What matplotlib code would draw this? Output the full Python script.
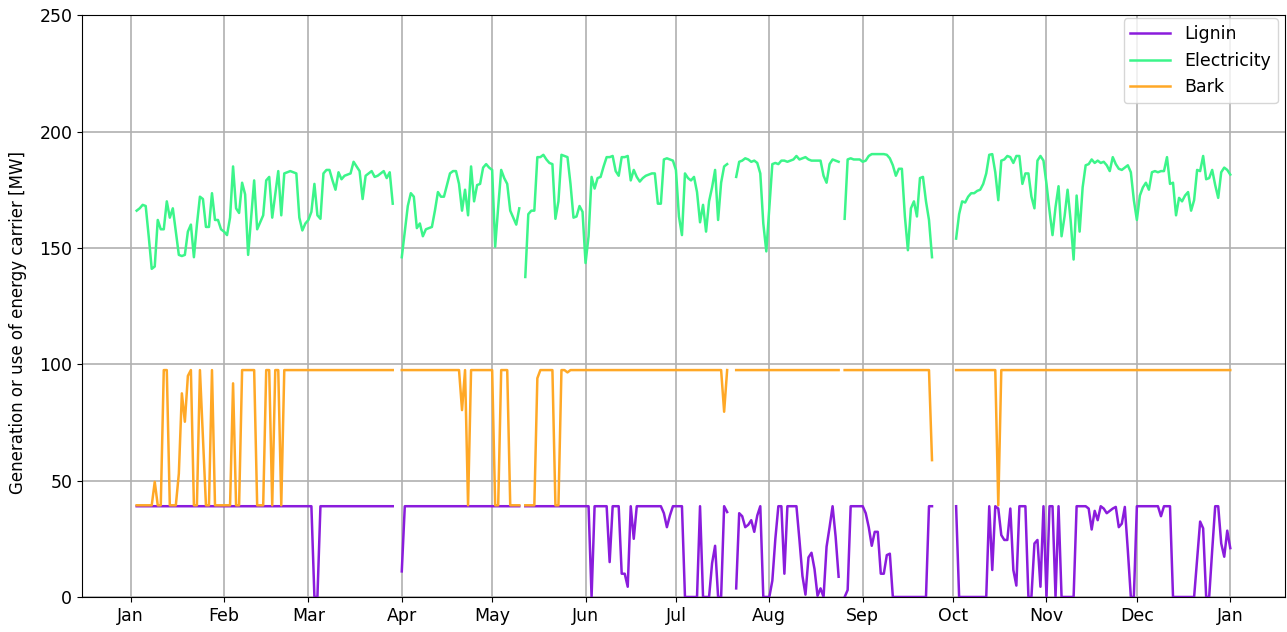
import numpy as np
import pandas as pd
import matplotlib
matplotlib.use("Agg")
import matplotlib.pyplot as plt
import matplotlib.dates as mdates

nan = np.nan

# daily values, first day 3 Jan, last day 1 Jan of next year
start_day = "2019-01-03"

electricity = [
    166, 167, 168.5, 168, 155, 141, 142, 162, 158, 158, 170, 163, 167, 157,
    147, 146.5, 147, 157, 160, 146, 160, 172, 171, 159, 159, 173.5, 162, 162,
    158, 157, 155.5, 163, 185, 167, 165, 178, 173, 147, 163, 179, 158, 161,
    164, 179, 180.5, 163, 173, 183, 164, 182, 182.5, 183, 182.5, 182, 163, 157.5,
    160.5, 162, 165.5, 177.5, 164, 162.5, 182, 183.5, 183.5, 179, 175, 182.5, 179.5, 181,
    181.5, 182, 187, 185, 183, 171, 181, 182, 183, 180.5, 181, 182, 183, 180,
    182.5, 169, nan, nan, 146, 157, 168, 173.5, 172, 158.5, 160.5, 155, 158, 158.5,
    159, 166, 174, 172, 172, 177, 182, 183, 183, 177.5, 166, 175, 164, 185,
    170, 177, 177.5, 184.5, 186, 184.5, 183.5, 150.5, 167.5, 183.5, 180, 177.5, 166, 163,
    160, 167, nan, 137.5, 164.5, 166, 166, 189, 189, 190, 188, 186.5, 186, 162.5,
    170, 190, 189.5, 189, 177.5, 163, 163.5, 168, 165.5, 143.5, 155, 180.5, 175.5, 180,
    180.5, 185, 189, 189, 189.5, 183, 181, 189, 189, 189.5, 179, 183.5, 180.5, 178.5,
    180, 181, 181.5, 182, 182, 169, 169, 188, 188.5, 188, 187.5, 183.5, 163.5, 155.5,
    182, 180, 179, 180.5, 174, 161, 168.5, 157, 170, 176, 183.5, 162, 178, 185,
    186, nan, nan, 180.5, 187, 187.5, 188.5, 188, 187, 187.5, 186.5, 182, 160.5, 148.5,
    167.5, 186, 186.5, 186, 187.5, 187.5, 187, 187.5, 188, 189.5, 188, 188.5, 189, 188,
    187.5, 187.5, 187.5, 187.5, 181, 178, 186, 188, 187.5, 187, nan, 162.5, 188, 188.5,
    188, 188, 188, 187, 187.5, 189.5, 190.3, 190.3, 190.3, 190.3, 190.3, 190, 188.5, 185.5,
    181, 184, 184, 163.5, 149, 167, 170, 163.5, 180, 180.5, 170, 162, 146, nan,
    nan, nan, nan, nan, nan, nan, 154, 164.5, 170, 169.5, 172, 173.5, 173.5, 174.5,
    175, 177.5, 182, 190, 190.3, 182.5, 170.5, 187.5, 188, 189.5, 189, 186.5, 189.5, 189.5,
    177.5, 182, 182, 172, 167, 187.5, 189.5, 187.5, 177.5, 166, 155.5, 167.5, 176.5, 155,
    163.5, 175, 162, 145, 172.5, 157, 176, 185.5, 186, 188, 186.5, 187.5, 186.5, 187,
    185.5, 183, 189, 186, 184, 183.5, 184.5, 185.5, 182.5, 170.5, 162, 172.5, 176, 178,
    175, 182.5, 183, 182.5, 183, 183, 189, 177.5, 178, 164, 171.5, 170, 172.5, 174,
    166, 170.5, 183.5, 183, 189.5, 179.5, 180, 183.5, 177, 171.5, 182.5, 184.5, 183.5, 181.5,
]

lignin = (
    [39] * 56
    + [39, 39, 39, 0, 0, 39, 39, 39, 39, 39, 39, 39, 39, 39]
    + [39] * 14
    + [39, 39, nan, nan, 11] + [39] * 9
    + [39] * 28
    + [39, 39, nan] + [39] * 11
    + [39] * 11 + [0, 39, 39]
    + [39, 39, 39, 15, 39, 39, 39, 10, 10, 4.4, 39, 25, 39, 39]
    + [39] * 7 + [36, 30, 35, 39, 39, 39, 39]
    + [0, 0, 0, 0, 0, 39, 0, 0, 0, 14.5, 22, 0, 0, 39]
    + [36.5, nan, nan, 3.7, 36, 34.7, 30, 31, 33, 28, 35, 39, 0, 0]
    + [0, 7, 25, 39, 39, 10, 39, 39, 39, 39, 24.5, 9, 1, 17]
    + [19, 12, 0.5, 3.7, 0, 21.6, 30, 39, 26, 8.7, nan, 0, 3, 39]
    + [39, 39, 39, 39, 36, 30, 22, 28, 28, 10, 10, 18, 18.6, 0]
    + [0] * 11 + [39, 39, nan]
    + [nan] * 6 + [39] + [0] * 7
    + [0, 0, 0, 39, 11.6, 39, 38, 26.6, 24.5, 24.5, 38, 11.6, 4.9, 39]
    + [39, 39, 0, 0, 23, 24.5, 4.4, 39, 0, 39, 39, 0, 39, 0]
    + [0, 0, 0, 0, 39, 39, 39, 39, 38, 29, 37, 33, 39, 38]
    + [36, 37, 38, 38.7, 30, 31.5, 38.7, 20, 0, 0, 39, 39, 39, 39]
    + [39, 39, 39, 39, 34.7, 39, 39, 39, 0, 0, 0, 0, 0, 0]
    + [0, 0, 16, 32.4, 29.5, 0, 0, 20, 39, 39, 23, 17.3, 28.5, 21]
)

bark = (
    [39.4] * 6 + [49.5, 39.4, 39.4, 97.5, 97.5, 39.4, 39.4, 39.4]
    + [53, 87.5, 75.3, 95, 97.5, 39.4, 39.4, 97.5, 68, 39.4, 39.4, 97.5, 39.4, 39.4]
    + [39.4] * 4 + [91.8, 39.4, 39.4] + [97.5] * 5 + [39.4, 39.4]
    + [39.4, 97.5, 97.5, 39.4, 97.5, 97.5, 39.4, 97.5] + [97.5] * 6
    + [97.5] * 28
    + [97.5, 97.5, nan, nan] + [97.5] * 10
    + [97.5] * 10 + [80.3, 97.5, 39.4, 97.5]
    + [97.5] * 7 + [39.4, 39.4, 97.5, 97.5, 97.5, 39.4, 39.4]
    + [39.4, 39.4, nan, 39.4, 39.4, 39.4, 39.4, 94] + [97.5] * 5 + [39.4]
    + [39.4, 97.5, 97.5, 96.5] + [97.5] * 10
    + [97.5] * 28
    + [97.5] * 13 + [79.6]
    + [97.5, nan, nan] + [97.5] * 11
    + [97.5] * 14
    + [97.5] * 10 + [nan] + [97.5] * 3
    + [97.5] * 14
    + [97.5] * 12 + [58.8, nan]
    + [nan] * 6 + [97.5] * 8
    + [97.5] * 6 + [39.4] + [97.5] * 7
    + [97.5] * 70
)

days = pd.date_range(start_day, periods=len(electricity), freq="D")

fig, ax = plt.subplots(figsize=(12.87, 6.32), dpi=100)
fig.subplots_adjust(left=0.0637, right=0.9984, top=0.976, bottom=0.0554)

ax.plot(days, lignin, color="#8a1cdc", lw=1.8, label="Lignin")
ax.plot(days, electricity, color="#3cf58a", lw=1.8, label="Electricity")
ax.plot(days, bark, color="#ffa826", lw=1.8, label="Bark")

ax.set_ylim(0, 250)
ax.xaxis.set_major_locator(mdates.MonthLocator())
ax.xaxis.set_major_formatter(mdates.DateFormatter("%b"))
ax.tick_params(labelsize=12.5)
ax.grid(True, color="#b0b0b0", lw=1.2)
ax.set_axisbelow(True)
ax.set_ylabel("Generation or use of energy carrier [MW]", fontsize=12)
ax.yaxis.set_label_coords(-0.046, 0.4725)
ax.legend(loc="upper right", fontsize=12.5, handlelength=2.3,
          borderaxespad=0, bbox_to_anchor=(0.9942, 0.9948))

fig.savefig("out.png")
